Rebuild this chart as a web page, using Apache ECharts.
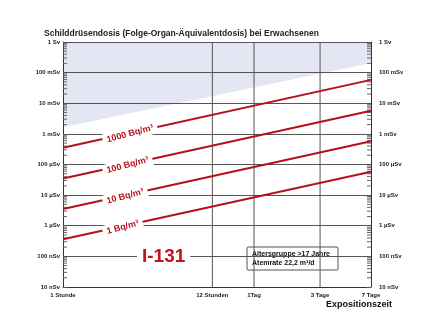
<!DOCTYPE html>
<html>
<head>
<meta charset="utf-8">
<script src="https://cdn.jsdelivr.net/npm/echarts@6/dist/echarts.min.js"></script>
<style>
  html, body { margin: 0; padding: 0; background: #fff; }
  #chart { width: 440px; height: 330px; }
</style>
</head>
<body>
<div id="chart"></div>
<script>
// Exposure time ticks (hours) and their labels
const timeTicks = [1, 12, 24, 72, 168];
const timeTickLabels = ['1 Stunde', '12 Stunden', '1Tag', '3 Tage', '7 Tage'];

// Dose axis labels for decades 10^-8 ... 10^0 Sv
const doseTickLabels = ['10 nSv', '100 nSv', '1 µSv', '10 µSv', '100 µSv', '1 mSv', '10 mSv', '100 mSv', '1 Sv'];

// Thyroid dose (Sv) after 1 hour and after 7 days, per air concentration
const lineNames = ['1000 Bq/m³', '100 Bq/m³', '10 Bq/m³', '1 Bq/m³'];
const lineHours = [1, 168];
const dose1000 = [3.5e-4, 5.8e-2];
const dose100 = [3.5e-5, 5.7e-3];
const dose10 = [3.5e-6, 5.7e-4];
const dose1 = [3.6e-7, 5.8e-5];

// Lower edge of the shaded high-dose band
const bandHours = [1, 168];
const bandDose = [1.66e-3, 0.206];

const FONT = "'Liberation Sans', Arial, sans-serif";
const RED = '#b3121c';
const GRID = '#555';

const doseLines = [dose1000, dose100, dose10, dose1];

// log minor ticks 2..9 within each decade
const minorTicks = [];
for (let e = -8; e < 0; e++) {
  for (let m = 2; m <= 9; m++) minorTicks.push([m * Math.pow(10, e)]);
}

const yAxisBase = {
  type: 'log',
  logBase: 10,
  min: 1e-8,
  max: 1,
  axisLine: { show: true, lineStyle: { color: '#333', width: 1 } },
  axisTick: { show: true, inside: true, length: 5, lineStyle: { color: GRID } },
  axisLabel: {
    fontFamily: FONT, fontSize: 6, fontWeight: 'bold', color: '#222',
    formatter: v => doseTickLabels[Math.round(Math.log10(v)) + 8]
  }
};

const series = [];

// shaded band reaching up to the top of the plot
series.push({
  type: 'line',
  z: -1,
  data: bandHours.map((h, i) => [h, bandDose[i]]),
  showSymbol: false,
  silent: true,
  lineStyle: { width: 0 },
  areaStyle: { origin: 'end', color: '#e4e6f3', opacity: 1 }
});

// vertical grid lines and time labels
series.push({
  type: 'custom',
  silent: true,
  z: 3,
  data: timeTicks.map((t, i) => [t, i]),
  encode: { x: 0 },
  renderItem: (params, api) => {
    const t = api.value(0);
    const i = api.value(1);
    const top = api.coord([t, 1]);
    const bot = api.coord([t, 1e-8]);
    const children = [];
    if (i > 0 && i < timeTicks.length - 1) {
      children.push({
        type: 'line',
        shape: { x1: top[0], y1: top[1], x2: bot[0], y2: bot[1] },
        style: { stroke: GRID, lineWidth: 1 }
      });
    }
    children.push({
      type: 'text',
      x: bot[0], y: bot[1] + 8,
      style: {
        text: timeTickLabels[i], fill: '#222',
        font: 'bold 6px ' + FONT, align: 'center', verticalAlign: 'middle'
      }
    });
    return { type: 'group', children };
  }
});

// minor ticks on both dose axes
series.push({
  type: 'custom',
  silent: true,
  z: 3,
  data: minorTicks,
  encode: { y: 0 },
  renderItem: (params, api) => {
    const v = api.value(0);
    const l = api.coord([1, v]);
    const r = api.coord([168, v]);
    return {
      type: 'group',
      children: [
        { type: 'line', shape: { x1: l[0], y1: l[1], x2: l[0] + 4, y2: l[1] }, style: { stroke: '#666', lineWidth: 1 } },
        { type: 'line', shape: { x1: r[0] - 4, y1: r[1], x2: r[0], y2: r[1] }, style: { stroke: '#666', lineWidth: 1 } }
      ]
    };
  }
});

// dose lines
doseLines.forEach((d, k) => {
  series.push({
    type: 'line',
    name: lineNames[k],
    z: 4,
    data: lineHours.map((h, i) => [h, d[i]]),
    showSymbol: false,
    silent: true,
    lineStyle: { color: RED, width: 2 }
  });
});

// concentration labels sitting on their lines
series.push({
  type: 'custom',
  silent: true,
  z: 5,
  data: doseLines.map((d, k) => [lineHours[0], d[0], lineHours[1], d[1], k]),
  encode: { x: [0, 2], y: [1, 3] },
  renderItem: (params, api) => {
    const p1 = api.coord([api.value(0), api.value(1)]);
    const p2 = api.coord([api.value(2), api.value(3)]);
    const k = api.value(4);
    const x = p1[0] + 40;
    const t = (x - p1[0]) / (p2[0] - p1[0]);
    const y = p1[1] + t * (p2[1] - p1[1]) + 2;
    return {
      type: 'text',
      x, y,
      rotation: 15 * Math.PI / 180,
      style: {
        text: lineNames[k], fill: RED,
        font: 'bold 9px ' + FONT, align: 'left', verticalAlign: 'middle',
        backgroundColor: '#fff', padding: [2, 4]
      }
    };
  }
});

const option = {
  backgroundColor: '#fff',
  animation: false,
  grid: { left: 63, right: 69, top: 42, bottom: 43 },
  title: {
    text: 'Schilddrüsendosis (Folge-Organ-Äquivalentdosis) bei Erwachsenen',
    left: 39, top: 24,
    textStyle: { fontFamily: FONT, fontSize: 8.5, fontWeight: 'bold', color: '#222' }
  },
  xAxis: {
    type: 'log', logBase: 10, min: 1, max: 168,
    axisLine: { show: true, lineStyle: { color: '#333', width: 1 } },
    axisTick: { show: false },
    axisLabel: { show: false },
    splitLine: { show: false }
  },
  yAxis: [
    Object.assign({}, yAxisBase, {
      position: 'left',
      axisLabel: Object.assign({}, yAxisBase.axisLabel, { margin: 3 }),
      splitLine: { show: true, lineStyle: { color: GRID, width: 1 } }
    }),
    Object.assign({}, yAxisBase, {
      position: 'right',
      axisLabel: Object.assign({}, yAxisBase.axisLabel, { margin: 8 }),
      splitLine: { show: false }
    })
  ],
  graphic: [
    {
      type: 'text', left: 137, top: 246, z: 100,
      style: {
        text: 'I-131', fill: '#c0141e', font: 'bold 19px ' + FONT,
        backgroundColor: '#fff', padding: [1, 5]
      }
    },
    {
      type: 'group', left: 246.5, top: 246.5, z: 100,
      children: [
        { type: 'rect', shape: { x: 0, y: 0, width: 91, height: 23, r: 1 }, style: { fill: '#fff', stroke: '#555', lineWidth: 1 } },
        { type: 'text', x: 5, y: 7.2, style: { text: 'Altersgruppe >17 Jahre', fill: '#111', font: 'bold 7px ' + FONT, verticalAlign: 'middle' } },
        { type: 'text', x: 5, y: 15.8, style: { text: 'Atemrate 22,2 m³/d', fill: '#111', font: 'bold 7px ' + FONT, verticalAlign: 'middle' } }
      ]
    },
    {
      type: 'text', left: 326, top: 300, z: 100,
      style: { text: 'Expositionszeit', fill: '#111', font: 'bold 9px ' + FONT }
    }
  ],
  series
};

const chart = echarts.init(document.getElementById('chart'), null, { renderer: 'canvas' });
chart.setOption(option);
</script>
</body>
</html>
